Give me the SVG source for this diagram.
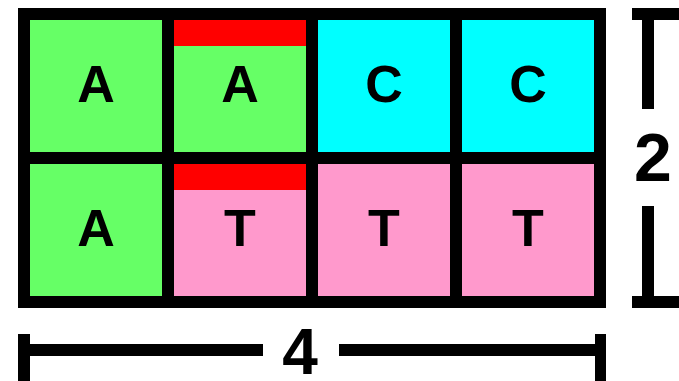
<svg xmlns="http://www.w3.org/2000/svg" width="679" height="381" viewBox="0 0 679 381">
<style>
.lbl{font-family:"Liberation Sans",Arial,sans-serif;font-weight:bold;font-size:52px;text-anchor:middle;fill:#000}
.dim{font-family:"Liberation Sans",Arial,sans-serif;font-weight:bold;text-anchor:middle;fill:#000}
.g{fill:#66ff66}.c{fill:#00ffff}.p{fill:#ff99cc}.r{fill:#ff0000}
</style>
<rect width="679" height="381" fill="#fff"/>
<rect id="frame" x="18" y="8" width="588" height="300" fill="#000"/>
<g id="cell-0-0"><rect class="g" x="30" y="20" width="132" height="132"/><text class="lbl" x="96" y="102">A</text></g>
<g id="cell-0-1"><rect class="g" x="174" y="20" width="132" height="132"/><rect class="r" x="174" y="20" width="132" height="26"/><text class="lbl" x="240" y="102">A</text></g>
<g id="cell-0-2"><rect class="c" x="318" y="20" width="132" height="132"/><text class="lbl" x="384" y="102">C</text></g>
<g id="cell-0-3"><rect class="c" x="462" y="20" width="132" height="132"/><text class="lbl" x="528" y="102">C</text></g>
<g id="cell-1-0"><rect class="g" x="30" y="164" width="132" height="132"/><text class="lbl" x="96" y="246">A</text></g>
<g id="cell-1-1"><rect class="p" x="174" y="164" width="132" height="132"/><rect class="r" x="174" y="164" width="132" height="26"/><text class="lbl" x="240" y="246">T</text></g>
<g id="cell-1-2"><rect class="p" x="318" y="164" width="132" height="132"/><text class="lbl" x="384" y="246">T</text></g>
<g id="cell-1-3"><rect class="p" x="462" y="164" width="132" height="132"/><text class="lbl" x="528" y="246">T</text></g>
<g id="dimensions" fill="#000">
<rect x="632" y="8" width="47" height="12"/>
<rect x="642" y="8" width="12" height="101"/>
<rect x="642" y="206" width="12" height="102"/>
<rect x="632" y="296" width="47" height="12"/>
<text class="dim" x="653" y="181" font-size="68">2</text>
<rect x="18" y="334" width="12" height="47"/>
<rect x="18" y="344" width="245" height="12"/>
<rect x="339" y="344" width="267" height="12"/>
<rect x="595" y="334" width="11" height="47"/>
<text class="dim" x="300" y="374" font-size="64">4</text>
</g>
</svg>
